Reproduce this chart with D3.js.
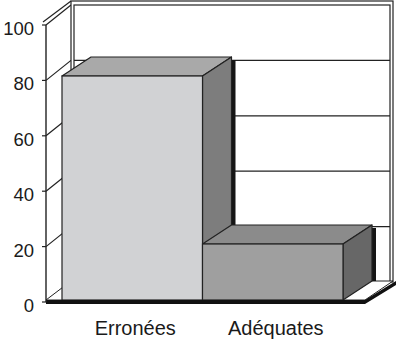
<!DOCTYPE html>
<html>
<head>
<meta charset="utf-8">
<script src="https://cdn.jsdelivr.net/npm/d3@7"></script>
<style>
  body { margin: 0; background: #fff; }
  text { font-family: "Liberation Sans", Arial, sans-serif; fill: #1a1a1a; }
</style>
</head>
<body>
<div id="chart"></div>
<script>
// données
const categories = ['Erronées', 'Adéquates'];
const values = [80, 20];
const yTicks = [0, 20, 40, 60, 80, 100];
const barColors = [
    { front: '#d1d2d4', top: '#a9a9a9', side: '#7d7d7d' },
    { front: '#9f9f9f', top: '#8b8b8b', side: '#676767' }
];

const W = 396, H = 342;
const stroke = '#222';

const svg = d3.select('#chart').append('svg')
    .attr('width', W)
    .attr('height', H);

// Échelles : plan avant (axe), plan arrière (mur), plan des barres
const yFront = d3.scaleLinear().domain([0, 100]).range([302, 25]);
const yBack = d3.scaleLinear().domain([0, 100]).range([282, 5]);
const yBar = d3.scaleLinear().domain([0, 100]).range([300, 20]);
const x = d3.scaleBand().domain(categories).range([62, 343]).padding(0);

const axisX = 46;          // axe vertical avant
const wallX = [71, 74];    // mur du fond (épaisseur)
const wallRight = [393, 390];
const barDepth = { dx: 29, dy: -19 };

// --- Mur latéral gauche ---
svg.append('path')
    .attr('d', `M${axisX},${yFront(100)} L${wallX[0]},${yBack(100)} L${wallX[0]},${yBack(0)} L${axisX},${yFront(0)} Z`)
    .attr('fill', '#fff');

svg.append('g').selectAll('line')
    .data(yTicks)
    .join('line')
    .attr('x1', axisX).attr('y1', d => yFront(d))
    .attr('x2', wallX[0]).attr('y2', d => yBack(d))
    .attr('stroke', stroke).attr('stroke-width', 1.2);

// épaisseur du haut du mur latéral
svg.append('line')
    .attr('x1', axisX - 3).attr('y1', yFront(100) - 3)
    .attr('x2', wallX[0]).attr('y2', yBack(100) - 4)
    .attr('stroke', stroke).attr('stroke-width', 1.2);

// --- Mur du fond ---
svg.append('rect')
    .attr('x', wallX[0]).attr('y', yBack(100) - 4)
    .attr('width', wallRight[0] - wallX[0])
    .attr('height', yBack(0) - yBack(100) + 4)
    .attr('fill', '#fff').attr('stroke', stroke).attr('stroke-width', 1.2);

svg.append('rect')
    .attr('x', wallX[1]).attr('y', yBack(100))
    .attr('width', wallRight[1] - wallX[1])
    .attr('height', yBack(0) - yBack(100))
    .attr('fill', '#fff').attr('stroke', stroke).attr('stroke-width', 1.2);

svg.append('g').selectAll('line')
    .data(yTicks.filter(d => d > 0 && d < 100))
    .join('line')
    .attr('x1', wallX[1]).attr('x2', wallRight[1])
    .attr('y1', d => yBack(d)).attr('y2', d => yBack(d))
    .attr('stroke', stroke).attr('stroke-width', 1.2);

// --- Sol ---
const floorFR = x.range()[1] + 22;
svg.append('path')
    .attr('d', `M${axisX},${yBar(0)} L${floorFR},${yBar(0)} L${wallRight[0]},${yBack(0) - 1} L${wallX[0]},${yBack(0) - 1} Z`)
    .attr('fill', '#fff').attr('stroke', stroke).attr('stroke-width', 1);

// épaisseur noire du sol (face avant + côté droit)
svg.append('path')
    .attr('d', `M${axisX},${yBar(0)} L${floorFR},${yBar(0)} L${wallRight[0] + 3},${yBack(0) - 1} L${wallRight[0] + 3},${yBack(0) + 3} L${floorFR},${yBar(0) + 4} L${axisX},${yBar(0) + 4} Z`)
    .attr('fill', '#111');

// --- Barres 3D ---
const bars = svg.append('g');
categories.forEach((cat, i) => {
    const x0 = x(cat), x1 = x(cat) + x.bandwidth();
    const yt = yBar(values[i]), yb = yBar(0);
    const { dx, dy } = barDepth;
    const c = barColors[i];
    const g = bars.append('g');

    // ombre sur le mur du fond
    g.append('rect')
        .attr('x', x1 + dx).attr('y', yt + dy + 3)
        .attr('width', 4).attr('height', yb + dy - (yt + dy + 3))
        .attr('fill', '#151515');

    // face du dessus
    g.append('path')
        .attr('d', `M${x0},${yt} L${x0 + dx},${yt + dy} L${x1 + dx},${yt + dy} L${x1},${yt} Z`)
        .attr('fill', c.top).attr('stroke', stroke).attr('stroke-width', 1.2).attr('stroke-linejoin', 'round');

    // face latérale
    g.append('path')
        .attr('d', `M${x1},${yt} L${x1 + dx},${yt + dy} L${x1 + dx},${yb + dy} L${x1},${yb} Z`)
        .attr('fill', c.side).attr('stroke', stroke).attr('stroke-width', 1.2).attr('stroke-linejoin', 'round');

    // face avant
    g.append('rect')
        .attr('x', x0).attr('y', yt)
        .attr('width', x.bandwidth()).attr('height', yb - yt)
        .attr('fill', c.front).attr('stroke', stroke).attr('stroke-width', 1.2);
});

// ligne noire du bord avant du sol par-dessus les barres
svg.append('rect')
    .attr('x', axisX).attr('y', yBar(0))
    .attr('width', floorFR - axisX).attr('height', 3.5)
    .attr('fill', '#111');

// --- Axe vertical ---
svg.append('line')
    .attr('x1', axisX).attr('x2', axisX)
    .attr('y1', yFront(100)).attr('y2', yFront(0))
    .attr('stroke', stroke).attr('stroke-width', 1.4);

svg.append('g').selectAll('line')
    .data(yTicks)
    .join('line')
    .attr('x1', axisX - 4).attr('x2', axisX)
    .attr('y1', d => yFront(d)).attr('y2', d => yFront(d))
    .attr('stroke', stroke).attr('stroke-width', 1.2);

svg.append('g').selectAll('text')
    .data(yTicks)
    .join('text')
    .attr('x', 34)
    .attr('y', d => yFront(d) + 10)
    .attr('text-anchor', 'end')
    .style('font-size', '18.5px')
    .text(d => d);

// --- Étiquettes des catégories ---
svg.append('g').selectAll('text')
    .data(categories)
    .join('text')
    .attr('x', d => x(d) + x.bandwidth() / 2 + 3)
    .attr('y', 335)
    .attr('text-anchor', 'middle')
    .style('font-size', '20px')
    .text(d => d);
</script>
</body>
</html>
